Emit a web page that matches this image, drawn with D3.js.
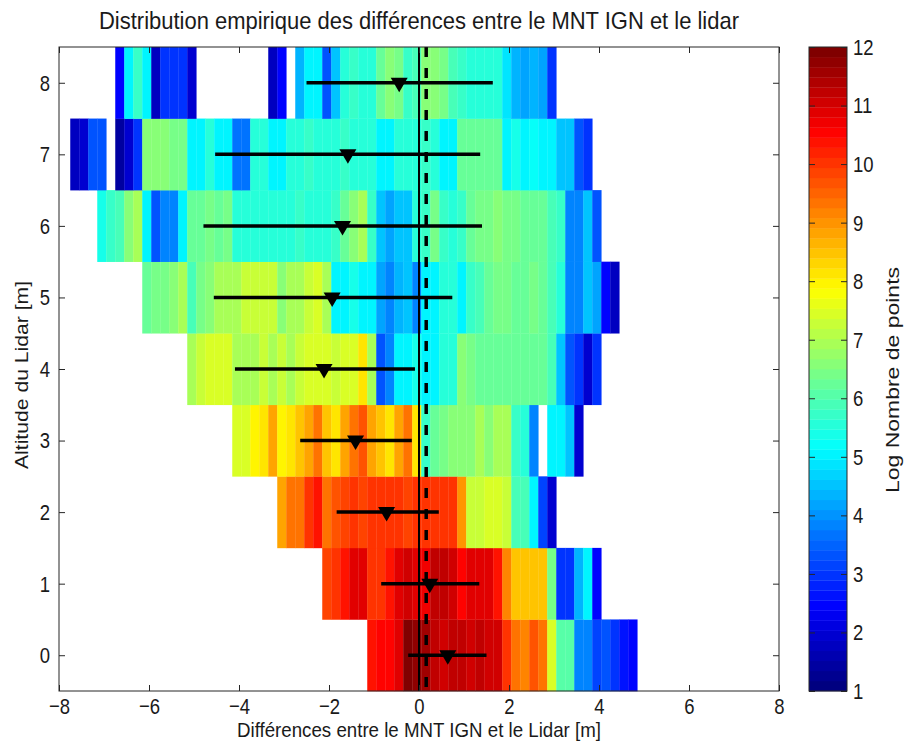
<!DOCTYPE html>
<html lang="fr">

<head>
    <meta charset="UTF-8" />
    <script src="https://d3js.org/d3.v7.min.js"></script>
    <title>Distribution empirique</title>
    <style>
        body {
            margin: 0;
            background: white;
        }

        text {
            font-family: "Liberation Sans", Arial, sans-serif;
            fill: #1a1a1a;
        }

        /* the reference looks stretched vertically */
        .tall {
            transform-box: fill-box;
            transform-origin: center;
            transform: scaleY(1.22);
        }

        .axis path {
            display: none;
        }

        .axis line {
            stroke: #262626;
        }
    </style>
</head>

<body>
    <svg id="chart" width="905" height="742"></svg>
    <script>
        // altitude rows (lidar, m)
        const altitudes = [0, 1, 2, 3, 4, 5, 6, 7, 8];
        // left edge of first 0.2 m bin for each row
        const binStarts = [-1.15, -2.15, -3.15, -4.15, -5.15, -6.15, -7.15, -7.75, -6.75];
        const binWidth = 0.2;

        // log of point count per bin (null = no point)
        const logCounts0 = [10.3, 10.6, 10.6, 10.8, 11.9, 11.8, 11.5, 11.3, 11.1, 11.2, 11.2, 11.1, 11.3, 11.1, 11.0,
            10.1, 9.25, 9.2, 9.6, 9.25, 7.4, 6.0, 6.0, 3.9, 3.75, 3.2, 3.4, 2.9, 2.7, 2.4];
        const logCounts1 = [9.8, 10.1, 10.45, 10.96, 10.96, 10.1, 10.1, 10.45, 10.96, 11.1, 10.96, 10.7, 11.3, 11.3, 11.1,
            10.6, 10.96, 10.96, 10.96, 10.3, 9.1, 8.56, 8.56, 8.56, 8.56, 6.33, 3.06, 3.06, 4.27, 5.12, 2.4];
        const logCounts2 = [8.9, 9.25, 9.4, 10.1, 10.3, 9.4, 9.6, 9.77, 9.94, 9.77, 9.94, 9.94, 10.1, 10.1, 9.77,
            10.1, 10.1, 10.1, 10.1, 10.1, 9.07, 7.19, 7.19, 7.53, 7.53, 7.19, 5.98, 5.98, 5.12, 3.2, 1.9];
        const logCounts3 = [7.36, 7.53, 7.875, 8.2, 8.9, 7.875, 8.2, 8.56, 8.9, 9.25, 8.56, 8.2, 8.9, 9.25, 9.6, 8.9,
            8.56, 8.2, 8.9, 9.25, 8.1, 5.8, 6.16, 6.33, 6.5, 6.67, 6.5, 6.85, 6.67, 7.0, 6.85, 5.8, 5.47, 3.9, null,
            5.12, 5.12, 4.44, 1.9];
        const logCounts4 = [6.85, 7.19, 7.53, 7.36, 7.36, 6.85, 7.0, 7.0, 7.19, 7.0, 7.19, 7.0, 7.19, 7.36, 7.53, 7.36,
            7.19, 7.36, 7.53, 8.2, 6.85, 3.4, 3.9, 5.12, 5.12, 5.3, 5.12, 5.12, 5.47, 5.47, 6.5, 6.33, 6.16, 6.16, 6.16,
            6.16, 6.16, 6.16, 6.16, 6.16, 5.98, 4.44, 3.4, 3.06, 1.9, 3.06];
        const logCounts5 = [6.16, 6.33, 6.33, 6.67, 6.85, 5.98, 6.33, 6.67, 7.0, 7.0, 7.0, 7.19, 7.19, 7.19, 7.19, 6.67,
            6.85, 7.0, 7.19, 7.53, 7.0, 5.12, 5.12, 5.3, 5.12, 5.12, 4.1, 3.9, 4.27, 4.44, 3.9, 5.12, 5.12, 5.64, 5.47,
            5.12, 5.8, 5.98, 6.16, 6.33, 6.33, 6.16, 6.16, 6.33, 6.16, 5.98, 5.64, 3.9, 3.9, 4.44, 4.1, 2.4, 1.7];
        const logCounts6 = [5.3, 5.8, 5.98, 6.5, 6.85, 5.12, 3.4, 3.75, 3.9, 5.12, 6.16, 6.16, 6.33, 6.16, 6.33, 5.64,
            5.64, 5.64, 5.47, 5.64, 5.64, 5.64, 5.8, 5.64, 5.64, 5.64, 5.8, 6.16, 6.67, 7.0, 5.8, 4.44, 4.1, 4.44, 4.6,
            5.64, 5.8, 6.33, 5.8, 5.64, 5.8, 6.16, 6.33, 6.33, 6.5, 6.33, 6.33, 6.16, 6.16, 6.16, 5.98, 5.8, 3.9, 3.9,
            4.44, 3.4];
        const logCounts7 = [1.7, 1.9, 3.4, 3.4, null, 1.5, 1.9, 2.9, 6.5, 6.5, 6.5, 6.33, 6.33, 5.12, 5.12, 5.64, 5.0,
            5.12, 3.6, 3.6, 5.47, 5.64, 5.12, 5.12, 5.47, 5.64, 5.8, 5.64, 5.47, 5.64, 5.8, 5.64, 5.64, 5.47, 5.12, 5.12,
            5.47, 5.64, 5.64, 5.8, 5.64, 5.12, 5.12, 6.16, 6.16, 6.16, 6.16, 6.16, 5.12, 5.3, 5.12, 5.2, 5.12, 5.12, 4.6,
            4.6, 3.4, 3.06];
        const logCounts8 = [2.4, 5.0, 5.8, 5.12, 1.7, 3.06, 3.06, 2.9, 1.9, null, null, null, null, null, null, null,
            null, 1.7, 2.4, null, 4.27, 5.12, 5.0, 3.4, 4.44, 5.64, 5.8, 5.64, 5.47, 6.16, 6.5, 6.33, 5.8, 5.98, 6.5, 6.5,
            6.33, 5.98, 5.8, 5.64, 5.47, 5.64, 5.47, 4.8, 4.27, 4.1, 4.27, 4.1, 3.06];
        const logCounts = [logCounts0, logCounts1, logCounts2, logCounts3, logCounts4, logCounts5, logCounts6,
            logCounts7, logCounts8];

        // mean difference and +/- std per row
        const meanDiff = [0.64, 0.24, -0.72, -1.41, -2.11, -1.93, -1.70, -1.58, -0.44];
        const lowDiff = [-0.24, -0.84, -1.83, -2.64, -4.09, -4.56, -4.79, -4.53, -2.50];
        const highDiff = [1.50, 1.34, 0.44, -0.16, -0.09, 0.74, 1.40, 1.36, 1.64];
        const globalMean = 0.16;

        const xTicks = [-8, -6, -4, -2, 0, 2, 4, 6, 8];
        const yTicks = [0, 1, 2, 3, 4, 5, 6, 7, 8];
        const cbTicks = [1, 2, 3, 4, 5, 6, 7, 8, 9, 10, 11, 12];

        const svg = d3.select("#chart");
        const plot = { left: 59, right: 779, top: 47, bottom: 691 };
        const cb = { left: 809, right: 847 };

        const x = d3.scaleLinear().domain([-8, 8]).range([plot.left, plot.right]);
        const y = d3.scaleLinear().domain([-0.5, 8.5]).range([plot.bottom, plot.top]);
        const cbScale = d3.scaleLinear().domain([1, 12]).range([plot.bottom, plot.top]);

        // matlab jet, 64 levels
        const nLevels = 64;
        function jet(t) {
            const c = v => Math.round(255 * Math.max(0, Math.min(1, v)));
            return `rgb(${c(1.5 - Math.abs(4 * t - 3))},${c(1.5 - Math.abs(4 * t - 2))},${c(1.5 - Math.abs(4 * t - 1))})`;
        }
        function colorOf(v) {
            let i = Math.floor((v - 1) / 11 * nLevels);
            i = Math.max(0, Math.min(nLevels - 1, i));
            return jet(i / (nLevels - 1));
        }

        // heatmap cells
        const cells = [];
        altitudes.forEach((alt, r) => {
            logCounts[r].forEach((v, k) => {
                if (v === null) return;
                cells.push({ alt: alt, x0: binStarts[r] + k * binWidth, x1: binStarts[r] + (k + 1) * binWidth, v: v });
            });
        });

        svg.append("g")
            .selectAll("rect")
            .data(cells)
            .join("rect")
            .attr("x", d => x(d.x0))
            .attr("y", d => y(d.alt + 0.5))
            .attr("width", d => x(d.x1) - x(d.x0) + 0.3)
            .attr("height", d => y(d.alt - 0.5) - y(d.alt + 0.5) + 0.3)
            .attr("fill", d => colorOf(d.v));

        // zero line and mean line
        svg.append("line")
            .attr("x1", x(0)).attr("x2", x(0))
            .attr("y1", plot.top).attr("y2", plot.bottom)
            .attr("stroke", "black").attr("stroke-width", 2);
        svg.append("line")
            .attr("x1", x(globalMean)).attr("x2", x(globalMean))
            .attr("y1", plot.top).attr("y2", plot.bottom)
            .attr("stroke", "black").attr("stroke-width", 3.5)
            .attr("stroke-dasharray", "10,11");

        // std bars and mean markers
        const bars = svg.append("g");
        bars.selectAll("line")
            .data(altitudes)
            .join("line")
            .attr("x1", (d, i) => x(lowDiff[i]))
            .attr("x2", (d, i) => x(highDiff[i]))
            .attr("y1", d => y(d))
            .attr("y2", d => y(d))
            .attr("stroke", "black")
            .attr("stroke-width", 3.5);
        bars.selectAll("path")
            .data(altitudes)
            .join("path")
            .attr("transform", (d, i) => `translate(${x(meanDiff[i])},${y(d)})`)
            .attr("d", "M-8.5,-5L8.5,-5L0,9.5Z")
            .attr("fill", "black");

        // axes (ticks inside, box)
        svg.append("g")
            .attr("class", "axis")
            .attr("transform", `translate(0,${plot.bottom})`)
            .call(d3.axisBottom(x).tickValues(xTicks).tickSize(-6).tickPadding(8))
            .selectAll("text").attr("class", "tall").style("font-size", "18.5px");
        svg.append("g")
            .attr("class", "axis")
            .attr("transform", `translate(0,${plot.top})`)
            .call(d3.axisTop(x).tickValues(xTicks).tickSize(-6).tickFormat(""));
        svg.append("g")
            .attr("class", "axis")
            .attr("transform", `translate(${plot.left},0)`)
            .call(d3.axisLeft(y).tickValues(yTicks).tickSize(-6).tickPadding(9))
            .selectAll("text").attr("class", "tall").style("font-size", "18.5px");
        svg.append("g")
            .attr("class", "axis")
            .attr("transform", `translate(${plot.right},0)`)
            .call(d3.axisRight(y).tickValues(yTicks).tickSize(-6).tickFormat(""));
        svg.append("rect")
            .attr("x", plot.left).attr("y", plot.top)
            .attr("width", plot.right - plot.left).attr("height", plot.bottom - plot.top)
            .attr("fill", "none").attr("stroke", "#262626");

        // colorbar
        const cbLevels = d3.range(nLevels);
        const step = 11 / nLevels;
        svg.append("g")
            .selectAll("rect")
            .data(cbLevels)
            .join("rect")
            .attr("x", cb.left)
            .attr("y", d => cbScale(1 + (d + 1) * step))
            .attr("width", cb.right - cb.left)
            .attr("height", d => cbScale(1 + d * step) - cbScale(1 + (d + 1) * step) + 0.3)
            .attr("fill", d => jet(d / (nLevels - 1)));
        svg.append("g")
            .attr("class", "axis")
            .attr("transform", `translate(${cb.right},0)`)
            .call(d3.axisRight(cbScale).tickValues(cbTicks).tickSize(-6).tickPadding(6))
            .selectAll("text").attr("class", "tall").style("font-size", "18.5px");
        svg.append("g")
            .attr("class", "axis")
            .attr("transform", `translate(${cb.left},0)`)
            .call(d3.axisLeft(cbScale).tickValues(cbTicks).tickSize(-6).tickFormat(""));
        svg.append("rect")
            .attr("x", cb.left).attr("y", plot.top)
            .attr("width", cb.right - cb.left).attr("height", plot.bottom - plot.top)
            .attr("fill", "none").attr("stroke", "#262626");

        // titles
        svg.append("text")
            .attr("class", "tall")
            .attr("x", (plot.left + plot.right) / 2).attr("y", 28)
            .attr("text-anchor", "middle").style("font-size", "20px")
            .attr("textLength", 640).attr("lengthAdjust", "spacingAndGlyphs")
            .text("Distribution empirique des différences entre le MNT IGN et le lidar");
        svg.append("text")
            .attr("x", (plot.left + plot.right) / 2).attr("y", 736.5)
            .attr("text-anchor", "middle").style("font-size", "18px")
            .style("transform-box", "fill-box").style("transform-origin", "center").style("transform", "scaleY(1.15)")
            .attr("textLength", 364).attr("lengthAdjust", "spacingAndGlyphs")
            .text("Différences entre le MNT IGN et le Lidar [m]");
        svg.append("text")
            .attr("transform", `translate(28,${(plot.top + plot.bottom) / 2 + 6}) rotate(-90)`)
            .attr("text-anchor", "middle").style("font-size", "18.5px")
            .attr("textLength", 188).attr("lengthAdjust", "spacingAndGlyphs")
            .text("Altitude du Lidar [m]");
        svg.append("text")
            .attr("transform", `translate(899,${(plot.top + plot.bottom) / 2 + 11}) rotate(-90)`)
            .attr("text-anchor", "middle").style("font-size", "18.5px")
            .attr("textLength", 226).attr("lengthAdjust", "spacingAndGlyphs")
            .text("Log Nombre de points");
    </script>
</body>

</html>
